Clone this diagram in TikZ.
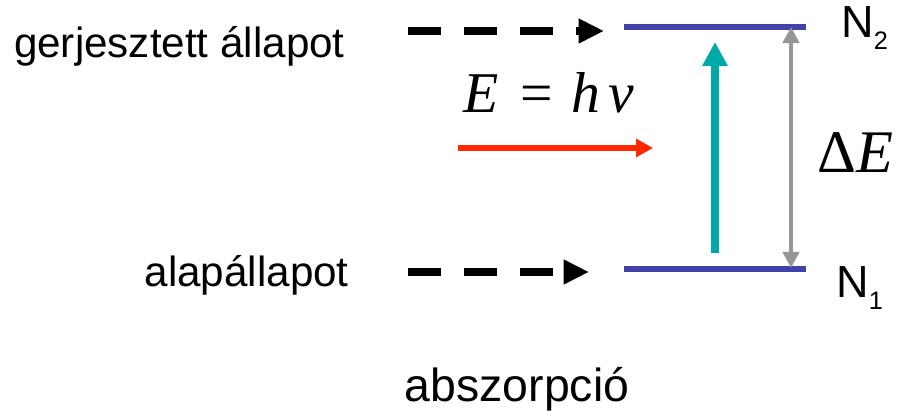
\documentclass[tikz,border=0pt]{standalone}
\usepackage{fontspec}
\setmainfont{Liberation Sans}
\newfontfamily\timesfont{Liberation Serif}
\usetikzlibrary{arrows.meta,positioning}
\definecolor{levelblue}{RGB}{66,66,168}
\definecolor{pumpteal}{RGB}{0,170,170}
\definecolor{gapgray}{RGB}{150,150,150}
\definecolor{photonred}{RGB}{255,40,0}
\tikzset{
  levelline/.style  = {line width=4.3pt, levelblue},
  feedarrow/.style  = {line width=5pt, dash pattern=on 23.5pt off 16.4pt,
                       -{Triangle[length=18pt, width=16.5pt]}},
  pumparrow/.style  = {line width=5.7pt, pumpteal,
                       -{Triangle[length=17pt, width=17pt]}},
  gaparrow/.style   = {line width=2.8pt, gapgray,
                       {Triangle[length=11.4pt, width=11.4pt]}-{Triangle[length=11.4pt, width=11.4pt]}},
  photonarrow/.style= {line width=4.3pt, photonred,
                       -{Triangle[length=12pt, width=12.5pt]}},
  statetext/.style  = {inner sep=0pt, font=\fontsize{30}{36}\selectfont},
  popntext/.style   = {inner sep=0pt, font=\fontsize{32}{38}\selectfont},
  serifmath/.style  = {inner sep=0pt, font=\timesfont\fontsize{41}{48}\selectfont},
}

\begin{document}
\begin{tikzpicture}[x=0.025cm, y=-0.025cm]
    \useasboundingbox (0,0) rectangle (905,411);

    % energy levels
    \coordinate (n2l) at (624,27);
    \coordinate (n2r) at (806,27);
    \coordinate (n1l) at (624,269);
    \coordinate (n1r) at (806,269);
    \draw[levelline] (n2l) -- (n2r);
    \draw[levelline] (n1l) -- (n1r);

    % state labels
    \node[statetext, anchor=base east] (excited) at (345,58) {gerjesztett állapot};
    \node[statetext, anchor=base east] (ground) at (349,287) {alapállapot};
    \node[popntext, anchor=base west] (pop2) at (841,38)
        {N\raisebox{-8.5pt}{\fontsize{18}{18}\selectfont 2}};
    \node[popntext, anchor=base west] (pop1) at (836,298)
        {N\raisebox{-8.5pt}{\fontsize{18}{18}\selectfont 1}};

    % dashed feed arrows
    \coordinate (feed2s) at (408,31);
    \coordinate (feed2e) at (604,31);
    \coordinate (feed1s) at (408,272);
    \coordinate (feed1e) at (589,272);
    \draw[feedarrow] (feed2s) -- (feed2e);
    \draw[feedarrow] (feed1s) -- (feed1e);

    % photon
    \node[serifmath, anchor=base west] (photon) at (463,113)
        {\itshape E\hspace{0.38em}\upshape=\hspace{0.33em}\itshape h\hspace{0.14em}ν};
    \coordinate (photons) at (458,148);
    \coordinate (photone) at (653,148);
    \draw[photonarrow] (photons) -- (photone);

    % absorption
    \coordinate (pumpfoot) at (715,253);
    \coordinate (pumptip) at (715,42);
    \draw[pumparrow] (pumpfoot) -- (pumptip);

    % energy gap
    \coordinate (gaptop) at (791,27);
    \coordinate (gapbot) at (791,268);
    \draw[gaparrow] (gaptop) -- (gapbot);
    \node[serifmath, font=\timesfont\fontsize{43}{50}\selectfont, anchor=base west]
        (gap) at (817,173) {Δ\itshape E};

    % caption
    \node[inner sep=0pt, font=\fontsize{33}{40}\selectfont, anchor=base]
        (caption) at (517,402) {abszorpció};

\end{tikzpicture}
\end{document}
